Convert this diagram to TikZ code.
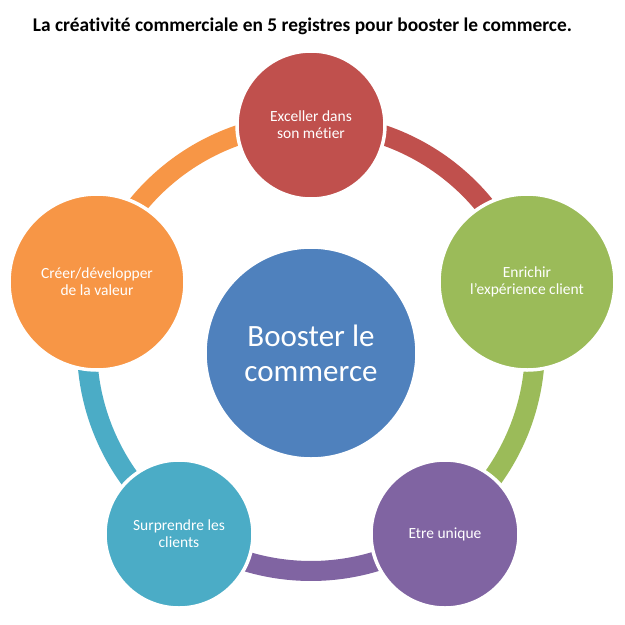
\documentclass[tikz,border=0pt]{standalone}
\usepackage{fontspec}
\setmainfont{Carlito}[Ligatures={NoCommon}]
\definecolor{cRed}{HTML}{C0504D}
\definecolor{cGreen}{HTML}{9BBB59}
\definecolor{cPurple}{HTML}{8064A2}
\definecolor{cTeal}{HTML}{4BACC6}
\definecolor{cOrange}{HTML}{F79646}
\definecolor{cBlue}{HTML}{4F81BD}
\tikzset{
  bubble/.style={circle, draw=white, line width=3.5pt, inner sep=0pt, text=white, align=center, font=\fontsize{15.5}{17}\selectfont},
  small/.style={bubble, minimum size=148pt},
  big/.style={bubble, minimum size=176pt},
  ringarc/.style={line width=20pt}
}
\begin{document}
\begin{tikzpicture}[x=1pt,y=1pt]
\useasboundingbox[fill=white] (0,0) rectangle (625,-625);
\node[anchor=base, font=\bfseries\fontsize{19.4}{22}\selectfont] (title) at (302.5,-31) {La créativité commerciale en 5 registres pour booster le commerce.};
\coordinate (ring) at (311,-347);
\def\R{224pt}
\draw[ringarc, cRed]    ([shift={(90:\R)}]ring) arc[start angle=90, end angle=16.7, radius=\R];
\draw[ringarc, cGreen]  ([shift={(16.7:\R)}]ring) arc[start angle=16.7, end angle=-54.4, radius=\R];
\draw[ringarc, cPurple] ([shift={(-54.4:\R)}]ring) arc[start angle=-54.4, end angle=-125.6, radius=\R];
\draw[ringarc, cTeal]   ([shift={(-125.6:\R)}]ring) arc[start angle=-125.6, end angle=-196.7, radius=\R];
\draw[ringarc, cOrange] ([shift={(163.3:\R)}]ring) arc[start angle=163.3, end angle=90, radius=\R];
\node[small, fill=cRed] (top) at (311,-125) {Exceller dans\\son métier};
\node[big, fill=cGreen] (right) at (527,-282) {Enrichir\\l'expérience client};
\node[small, fill=cPurple] (bright) at (445,-534) {Etre unique};
\node[small, fill=cTeal] (bleft) at (179,-534) {Surprendre les\\clients};
\node[big, fill=cOrange] (left) at (97,-282) {Créer/développer\\de la valeur};
\node[bubble, fill=cBlue, minimum size=212pt, font=\fontsize{31}{35}\selectfont] (hub) at (311,-353) {Booster le\\commerce};
\end{tikzpicture}
\end{document}
